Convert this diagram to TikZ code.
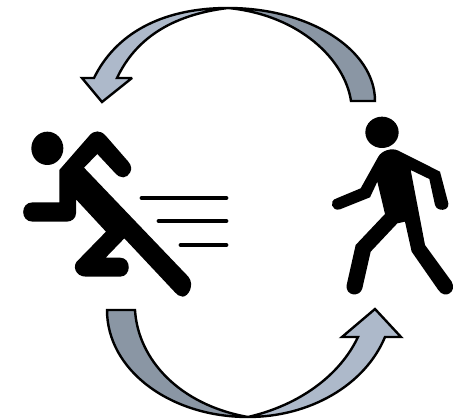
\documentclass[tikz,border=0pt]{standalone}
\definecolor{lightarrow}{HTML}{ADB9CA}
\definecolor{darkarrow}{HTML}{8A96A4}
\tikzset{
  band/.style={draw=black,line width=1.8pt,line join=miter,miter limit=3},
  figure/.style={fill=black,draw=none},
  speedline/.style={draw=black,line width=3.6pt,line cap=round}
}
\begin{document}
\begin{tikzpicture}[x=0.75pt,y=-0.75pt]
\useasboundingbox (0,0) rectangle (454,420);
% top arrow
\path[band,fill=darkarrow] (351,101) -- (375,101) .. controls (375,50) and (310,8) .. (228,8)
  .. controls (300,15) and (345,60) .. (351,101) -- cycle;
\path[band,fill=lightarrow] (228,8) .. controls (160,8) and (115,35) .. (94,78) -- (82,78) -- (102,102) -- (132,78) -- (117,78)
  .. controls (135,40) and (170,15) .. (228,8) -- cycle;
% bottom arrow
\path[band,fill=darkarrow] (107,310) -- (135,310) .. controls (138,360) and (180,405) .. (248,417)
  .. controls (170,417) and (107,370) .. (107,310) -- cycle;
\path[band,fill=lightarrow] (248,417) .. controls (310,417) and (365,385) .. (385,337) -- (401,337) -- (375,309) -- (342,337) -- (358,337)
  .. controls (340,375) and (300,405) .. (248,417) -- cycle;
% runner
\begin{scope}[shift={(10,120)},x=0.25pt,y=-0.25pt]
\fill[figure] (112,85) ellipse [x radius=48,y radius=50];
\path[figure] (148,247) -- (148,150) -- (238,47) .. controls (252,30) and (272,30) .. (287,47)
  -- (355,125) .. controls (375,148) and (355,172) .. (340,172) .. controls (330,172) and (322,167) .. (318,162)
  -- (262,102) -- (222,143) -- (535,470) .. controls (555,495) and (535,530) .. (518,530) .. controls (508,530) and (500,523) .. (495,517)
  -- (343,355) -- (287,413) -- (330,413) .. controls (365,413) and (365,470) .. (330,470)
  -- (228,470) .. controls (195,470) and (185,435) .. (205,420) -- (288,335) -- (198,238) -- (198,280)
  .. controls (198,295) and (185,305) .. (170,305) -- (68,305) .. controls (30,305) and (30,247) .. (68,247) -- cycle;
\end{scope}
% speed lines
\coordinate (s1a) at (142,198); \coordinate (s1b) at (226,198);
\coordinate (s2a) at (159,221); \coordinate (s2b) at (226,221);
\coordinate (s3a) at (181,245); \coordinate (s3b) at (226,245);
\draw[speedline] (s1a) -- (s1b);
\draw[speedline] (s2a) -- (s2b);
\draw[speedline] (s3a) -- (s3b);
% walker
\begin{scope}[shift={(320,110)},x=0.25pt,y=-0.25pt]
\fill[figure] (186,67) ellipse [x radius=50,y radius=47];
\path[figure] (175,140) .. controls (185,122) and (215,112) .. (235,122) -- (360,185) -- (385,280)
  .. controls (388,305) and (350,305) .. (345,285) -- (328,207) -- (272,180) -- (315,405) -- (395,515)
  .. controls (412,545) and (375,570) .. (355,540) -- (275,425) -- (255,335) -- (232,340) -- (152,425) -- (127,535)
  .. controls (120,563) and (75,558) .. (80,525) -- (107,405) -- (195,312) -- (172,215) -- (150,262) -- (60,298)
  .. controls (35,305) and (25,272) .. (50,265) -- (122,235) -- cycle;
\end{scope}
\end{tikzpicture}
\end{document}
